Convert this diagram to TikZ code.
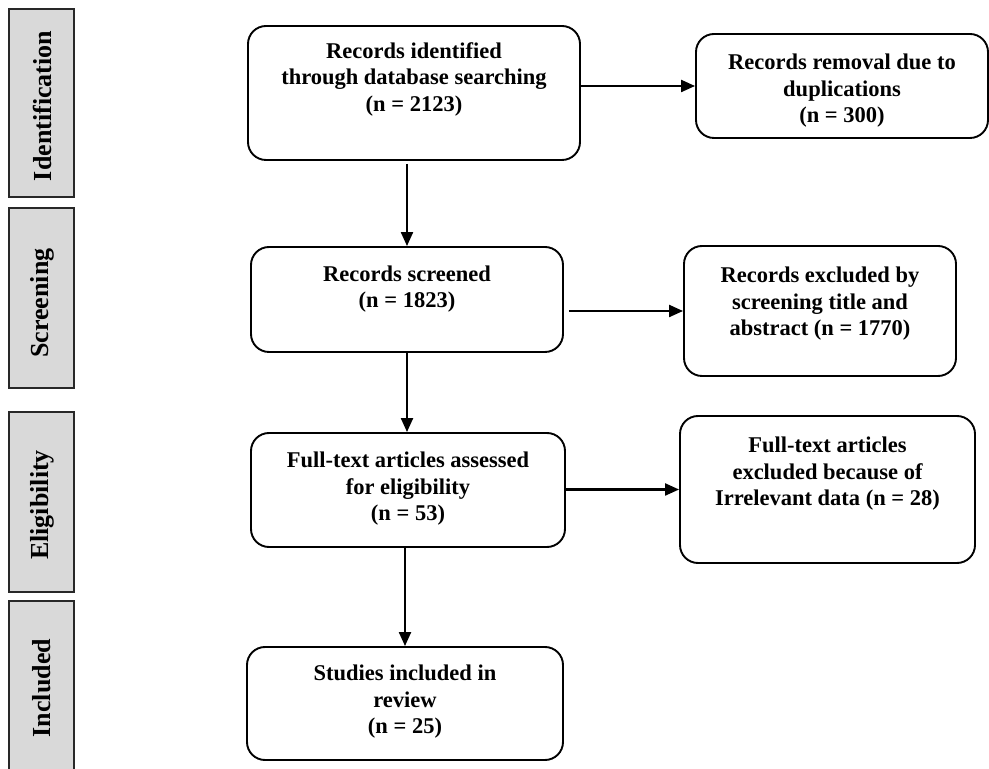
\documentclass[tikz,border=0pt]{standalone}
\usepackage{fontspec}
\setmainfont{Liberation Serif}
\usepackage{graphicx}
\usetikzlibrary{arrows.meta}
\definecolor{stagegray}{RGB}{217,217,217}
\definecolor{stageline}{RGB}{40,40,40}
\tikzset{
  stage/.style={draw=stageline, fill=stagegray, line width=1.6pt, minimum width=65pt, inner sep=0pt},
  flowbox/.style={draw=black, line width=1.9pt, rounded corners=18pt, inner sep=0pt},
  flowtext/.style={align=center, inner sep=0pt, font=\bfseries\fontsize{22.5}{26.5}\selectfont},
  stagetext/.style={font=\bfseries\fontsize{26}{30}\selectfont},
  arr/.style={draw=black, line width=2.2pt, -{Triangle[length=14pt,width=12pt]}}
}
\begin{document}
\begin{tikzpicture}[x=1pt,y=1pt]
\useasboundingbox (0,0) rectangle (989,769);
\clip (0,0) rectangle (989,769);
\fill[white] (0,0) rectangle (989,769);

% stage labels
\node[stage, minimum height=188pt] (sI) at (41.5,666) {};
\node[stagetext] (tI) at (42,663) {\rotatebox{90}{Identification}};
\node[stage, minimum height=180pt] (sS) at (41.5,471) {};
\node[stagetext] (tS) at (42,466) {\rotatebox{90}{Screening}};
\node[stage, minimum height=180pt] (sE) at (41.5,267) {};
\node[stagetext] (tE) at (42,264) {\rotatebox{90}{Eligibility}};
\node[stage, minimum height=185pt] (sN) at (41.5,75.5) {};
\node[stagetext] (tN) at (42,81) {\rotatebox{90}{Included}};

% main column
\node[flowbox, minimum width=332pt, minimum height=134pt] (A) at (414,676) {};
\node[flowtext] (tA) at (414,690) {Records identified\\through database searching\\(n = 2123)};
\node[flowbox, minimum width=312pt, minimum height=105pt] (B) at (407,469.5) {};
\node[flowtext] (tB) at (407,480) {Records screened\\(n = 1823)};
\node[flowbox, minimum width=314pt, minimum height=114pt] (C) at (408,279) {};
\node[flowtext] (tC) at (408,280) {Full-text articles assessed\\for eligibility\\(n = 53)};
\node[flowbox, minimum width=316pt, minimum height=113pt] (D) at (405,65.5) {};
\node[flowtext] (tD) at (405,67) {Studies included in\\review\\(n = 25)};

% right column
\node[flowbox, minimum width=292pt, minimum height=104pt] (R1) at (842,683) {};
\node[flowtext] (tR1) at (842,678) {Records removal due to\\duplications\\(n = 300)};
\node[flowbox, minimum width=272pt, minimum height=130pt] (R2) at (820,458) {};
\node[flowtext] (tR2) at (820,465) {Records excluded by\\screening title and\\abstract (n = 1770)};
\node[flowbox, minimum width=295pt, minimum height=147pt] (R3) at (827.5,279.5) {};
\node[flowtext] (tR3) at (827.5,295) {Full-text articles\\excluded because of\\Irrelevant data (n = 28)};

% connectors
\draw[arr, shorten <=3pt] (A.south -| B.north) -- (B.north);
\draw[arr] (A.east |- R1.west) -- (R1.west);
\draw[arr] (B.south) -- (B.south |- C.north);
\draw[arr, shorten <=5pt] (B.east |- R2.west) -- (R2.west);
\draw[arr] (C.east |- R3.west) -- (R3.west);
\draw[arr] (C.south -| D.north) -- (D.north);
\end{tikzpicture}
\end{document}
